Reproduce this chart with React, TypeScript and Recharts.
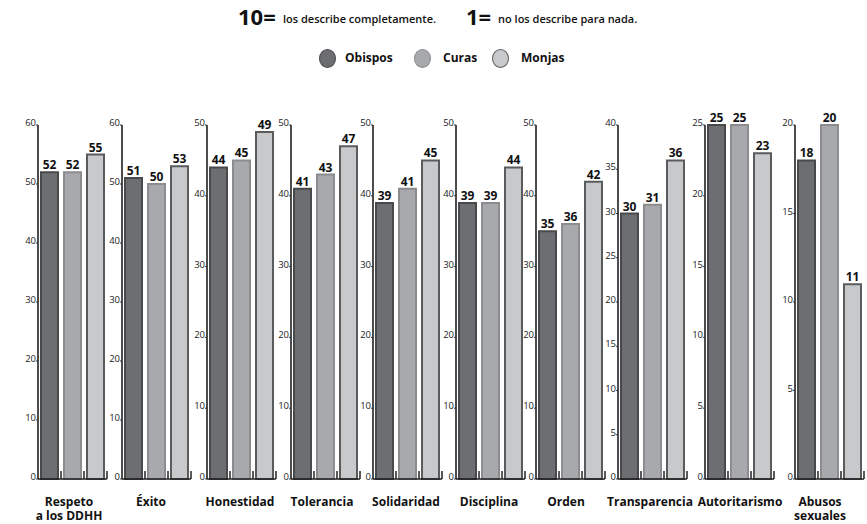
import React from "react";
import { BarChart, Bar, XAxis, YAxis, Cell, LabelList } from "recharts";

const groups = ["Obispos", "Curas", "Monjas"];
const categories = [
  "Respeto\na los DDHH",
  "Éxito",
  "Honestidad",
  "Tolerancia",
  "Solidaridad",
  "Disciplina",
  "Orden",
  "Transparencia",
  "Autoritarismo",
  "Abusos\nsexuales",
];
const obispos = [52, 51, 44, 41, 39, 39, 35, 30, 25, 18];
const curas = [52, 50, 45, 43, 41, 39, 36, 31, 25, 20];
const monjas = [55, 53, 49, 47, 45, 44, 42, 36, 23, 11];
const yTicks = [
  [0, 10, 20, 30, 40, 50, 60],
  [0, 10, 20, 30, 40, 50, 60],
  [0, 10, 20, 30, 40, 50],
  [0, 10, 20, 30, 40, 50],
  [0, 10, 20, 30, 40, 50],
  [0, 10, 20, 30, 40, 50],
  [0, 10, 20, 30, 40, 50],
  [0, 5, 10, 15, 20, 25, 30, 35, 40],
  [0, 5, 10, 15, 20, 25],
  [0, 5, 10, 15, 20],
];

const FILLS = ["#6d6e71", "#a7a9ac", "#c8c9cb"];
const STROKES = ["#48494b", "#8a8c8e", "#5a5b5d"];
const AXIS_X = [38, 122, 207, 291, 373, 456, 536, 618, 705, 795];
const LABEL_CX = [69, 151, 240, 322, 406, 489, 566, 650, 740, 820];
const FONT = '"Open Sans", sans-serif';

const YTick = (props: any) => {
  const { x, y, payload } = props;
  return (
    <text x={x} y={y + 1} textAnchor="end" fontSize={9.5} fill="#222" fontFamily={FONT}>
      {payload.value}
    </text>
  );
};

// draws the small upward tick at the right edge of each band
const XTick = (props: any) => {
  const { x, y, payload } = props;
  const bx = x + (payload?.offset ?? 0);
  return <line x1={bx} x2={bx} y1={y} y2={y - 8} stroke="#222" strokeWidth={1.5} />;
};

function Panel({ i }: { i: number }) {
  const data = groups.map((g, k) => ({
    name: g,
    value: [obispos, curas, monjas][k][i],
  }));
  const ticks = yTicks[i];
  return (
    <div style={{ position: "absolute", left: AXIS_X[i] - 20, top: 100 }}>
      <BarChart width={95} height={389} data={data} margin={{ top: 25, right: 6, bottom: 0, left: 0 }}>
        <XAxis
          dataKey="name"
          height={10}
          interval={0}
          tickSize={0}
          tickMargin={0}
          tickLine={false}
          axisLine={{ stroke: "#222", strokeWidth: 1.5 }}
          tick={<XTick />}
        />
        <YAxis
          width={20}
          domain={[0, ticks[ticks.length - 1]]}
          ticks={ticks}
          interval={0}
          tickSize={2}
          tickMargin={0}
          tickLine={{ stroke: "#333" }}
          axisLine={{ stroke: "#111", strokeWidth: 1.5 }}
          tick={<YTick />}
        />
        <Bar dataKey="value" barSize={17} strokeWidth={2} isAnimationActive={false}>
          {data.map((d, k) => (
            <Cell key={d.name} fill={FILLS[k]} stroke={STROKES[k]} />
          ))}
          <LabelList
            dataKey="value"
            position="top"
            offset={3}
            fill="#111"
            fontSize={12}
            fontWeight={700}
            fontFamily={FONT}
          />
        </Bar>
      </BarChart>
    </div>
  );
}

export default function App() {
  const big = { position: "absolute" as const, top: 5, fontSize: 22, fontWeight: 700, lineHeight: 1 };
  const small = { position: "absolute" as const, top: 13, fontSize: 11, fontWeight: 600, lineHeight: 1 };
  return (
    <div
      style={{
        position: "absolute",
        left: 0,
        top: 0,
        width: 867,
        height: 524,
        background: "#fff",
        fontFamily: FONT,
        color: "#111",
      }}
    >
      <div style={{ ...big, left: 238 }}>10=</div>
      <div style={{ ...small, left: 283 }}>los describe completamente.</div>
      <div style={{ ...big, left: 466 }}>1=</div>
      <div style={{ ...small, left: 498 }}>no los describe para nada.</div>

      {groups.map((g, k) => {
        const cx = [328, 423, 501][k];
        const tx = [345, 443, 521][k];
        return (
          <React.Fragment key={g}>
            <div
              style={{
                position: "absolute",
                left: cx - 9,
                top: 49,
                width: 15,
                height: 17,
                borderRadius: "50%",
                background: FILLS[k],
                border: `1.5px solid ${STROKES[k]}`,
              }}
            />
            <div style={{ position: "absolute", left: tx, top: 49, fontSize: 12, fontWeight: 700, lineHeight: "18px" }}>
              {g}
            </div>
          </React.Fragment>
        );
      })}

      {categories.map((_, i) => (
        <Panel key={i} i={i} />
      ))}

      {categories.map((c, i) => (
        <div
          key={c}
          style={{
            position: "absolute",
            left: LABEL_CX[i] - 60,
            width: 120,
            top: 495,
            textAlign: "center",
            fontSize: 12,
            fontWeight: 700,
            lineHeight: "13.5px",
            whiteSpace: "pre-line",
          }}
        >
          {c}
        </div>
      ))}
    </div>
  );
}
